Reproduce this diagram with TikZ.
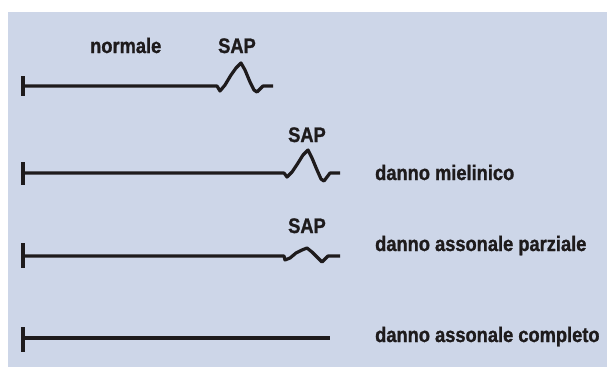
\documentclass[tikz,border=0pt]{standalone}
\usepackage{fontspec}
\newfontfamily\lblfont{Liberation Sans Bold}[FakeStretch=0.87,FakeBold=1.2]
\definecolor{bgblue}{HTML}{CDD6E8}
\definecolor{ink}{HTML}{1E1B1C}
\begin{document}
\begin{tikzpicture}[x=1pt,y=-1pt,
  lbl/.style={anchor=base west,inner sep=0pt,font=\fontsize{21}{24}\lblfont,text=ink},
  axon/.style={draw=ink,line width=3.2pt,line join=round},
  tick/.style={draw=ink,line width=3.2pt}]
\useasboundingbox (0,0) rectangle (607,367);
\fill[bgblue] (8,12) rectangle (607,367);
% labels
\node[lbl] (norm) at (90,53) {normale};
\node[lbl] (sap1) at (218,53) {SAP};
\node[lbl] (sap2) at (288,142) {SAP};
\node[lbl] (sap3) at (288,233) {SAP};
\node[lbl] (mie) at (375,180) {danno mielinico};
\node[lbl] (par) at (375,251) {danno assonale parziale};
\node[lbl] (com) at (375,342) {danno assonale completo};
% line 1
\coordinate (a1) at (23,86);
\coordinate (b1) at (217,86);
\draw[tick] (23,76) -- (23,96);
\draw[axon] (a1) -- (b1) -- (220,91) -- (225,85) -- (231,75) -- (236,68) -- (241,63) -- (245,70) -- (250,82) -- (254,90) -- (257,92) -- (263,86) -- (273,86);
% line 2
\coordinate (a2) at (23,173);
\coordinate (b2) at (284,173);
\draw[tick] (23,162) -- (23,185);
\draw[axon] (a2) -- (b2) -- (287,177) -- (292,172) -- (298,163) -- (303,155) -- (308,150) -- (312,158) -- (317,170) -- (321,179) -- (324,181) -- (330,173) -- (340,173);
% line 3
\coordinate (a3) at (23,256);
\coordinate (b3) at (284,256);
\draw[tick] (23,243) -- (23,268);
\draw[axon] (a3) -- (b3) -- (285,260) -- (290,258) -- (296,253) -- (302,250) -- (307,248) -- (312,252) -- (317,257) -- (322,262) -- (328,256) -- (340,256);
% line 4
\coordinate (a4) at (23,338);
\coordinate (b4) at (330,338);
\draw[tick] (23,327) -- (23,352);
\draw[axon] (a4) -- (b4);
\end{tikzpicture}
\end{document}
